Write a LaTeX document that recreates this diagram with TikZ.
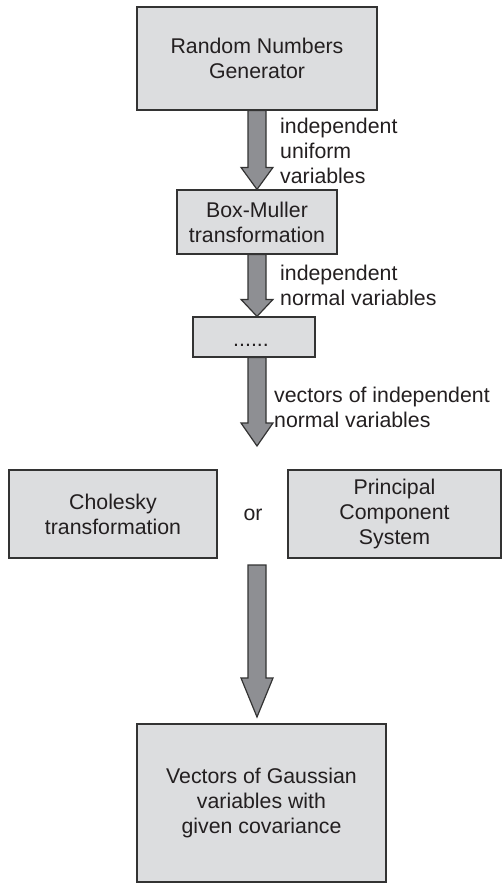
\documentclass[tikz,border=0pt]{standalone}
\usepackage{fontspec}
\setmainfont{Liberation Sans}
\usetikzlibrary{calc}
\definecolor{boxfill}{HTML}{DCDDDF}
\definecolor{arrfill}{HTML}{8E8F93}
\definecolor{edgecol}{HTML}{333333}
\definecolor{txtcol}{HTML}{231F20}
\newcommand\blockarrow[3]{%
  \draw[blockarr] ($(#1)+(-9,0)$) -- ($(#2)+(-9,-#3)$) -- ($(#2)+(-16,-#3)$) -- (#2)
    -- ($(#2)+(16,-#3)$) -- ($(#2)+(9,-#3)$) -- ($(#1)+(9,0)$) -- cycle;}
\tikzset{
  txtfont/.style={font=\fontsize{21.3}{25}\selectfont, text=txtcol},
  box/.style={draw=edgecol, fill=boxfill, line width=1.2pt, inner sep=0pt, align=center, txtfont},
  lbl/.style={inner sep=0pt, align=left, anchor=north west, txtfont},
  blockarr/.style={draw=edgecol, fill=arrfill, line width=1.2pt, line join=miter},
}
\begin{document}
\begin{tikzpicture}[x=1pt, y=-1pt]
\useasboundingbox (0,0) rectangle (503,884);
\node[box, minimum width=240pt, minimum height=103pt] (rng) at (257,58.5) {Random Numbers\\Generator};
\node[box, minimum width=160pt, minimum height=64pt] (bm) at (257,222) {Box-Muller\\transformation};
\node[box, minimum width=122pt, minimum height=40pt] (dots) at (254,337) {};
\node[anchor=base, inner sep=0pt, txtfont] (dotstxt) at (251,346) {......};
\node[box, minimum width=208pt, minimum height=88pt] (chol) at (113,514) {Cholesky\\transformation};
\node[box, minimum width=213pt, minimum height=88pt] (pcs) at (394.5,514) {Principal\\Component\\System};
\node[anchor=base, inner sep=0pt, txtfont] (or) at (253,520) {or};
\node[box, minimum width=249pt, minimum height=158pt] (gauss) at (261.5,803) {Vectors of Gaussian\\variables with\\given covariance};

\coordinate (a3end) at (257,446);
\coordinate (a4start) at (257,565);
\coordinate (a4end) at (257,717);

\blockarrow{rng.south}{bm.north}{22}
\blockarrow{bm.south}{rng.south |- dots.north}{17}
\blockarrow{rng.south |- dots.south}{a3end}{23}
\blockarrow{a4start}{a4end}{39}

\node[lbl] (l1) at (280,118) {independent\\uniform\\variables};
\node[lbl] (l2) at (280,265) {independent\\normal variables};
\node[lbl] (l3) at (274,387) {vectors of independent\\normal variables};
\end{tikzpicture}
\end{document}
